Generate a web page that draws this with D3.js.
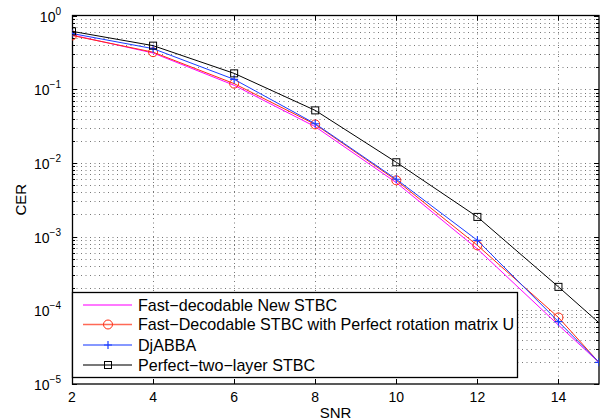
<!DOCTYPE html>
<html><head><meta charset="utf-8">
<script src="https://cdn.jsdelivr.net/npm/d3@7/dist/d3.min.js"></script>
<style>body{margin:0;background:#fff}svg{display:block}text{font-family:"Liberation Sans",Arial,sans-serif;fill:#000}</style>
</head><body><svg id="c" width="603" height="420"></svg>
<script>
const xTicks = [2,4,6,8,10,12,14];
const yDecades = [0,-1,-2,-3,-4,-5];
const legendLabels = ["Fast\u2212decodable New STBC","Fast\u2212Decodable STBC with Perfect rotation matrix U","DjABBA","Perfect\u2212two\u2212layer STBC"];
const magentaX = [2,4,6,8,10,12,14,16];
const magentaY = [0.545,0.31,0.113,0.031,0.0054,0.00068,0.000063,0.0000061];
const redX = [2,4,6,8,10,12,14,16];
const redY = [0.536,0.318,0.119,0.0333,0.0058,0.00076,0.00008,0.0000048];
const blueX = [2,4,6,8,10,12,14,15];
const blueY = [0.57,0.355,0.136,0.034,0.006,0.00089,0.00007,0.0000197];
const blackX = [2,4,6,8,10,12,14,16];
const blackY = [0.61,0.39,0.164,0.0516,0.0102,0.00185,0.000208,0.000022];

const svg = d3.select("#c");
const L=72, R=599, T=15.5, B=384;
const x = d3.scaleLinear().domain([2,15]).range([L,R]);
const y = d3.scaleLog().domain([1e-5,1]).range([B,T]);

// grid
const g = svg.append("g");
const minorVals=[];
for(let d=-5; d<0; d++) for(let m=1;m<10;m++) minorVals.push(m*Math.pow(10,d));
minorVals.push(1);
g.selectAll("line.hg").data(minorVals.filter(v=>v>1e-5&&v<1)).enter().append("line")
 .attr("x1",L).attr("x2",R).attr("y1",d=>Math.round(y(d))+0.5).attr("y2",d=>Math.round(y(d))+0.5)
 .attr("stroke","#555").attr("stroke-width",0.8).attr("stroke-dasharray","1,3.5");
g.selectAll("line.vg").data(xTicks.slice(1)).enter().append("line")
 .attr("y1",T).attr("y2",B).attr("x1",d=>Math.round(x(d))+0.5).attr("x2",d=>Math.round(x(d))+0.5)
 .attr("stroke","#555").attr("stroke-width",0.8).attr("stroke-dasharray","1,3.5");

// ticks
const tk = svg.append("g").attr("stroke","#000").attr("stroke-width",1);
minorVals.forEach(v=>{
  const major = Math.abs(Math.log10(v)-Math.round(Math.log10(v)))<1e-9;
  const len = major?5:3; const yy=Math.round(y(v))+0.5;
  tk.append("line").attr("x1",L).attr("x2",L+len).attr("y1",yy).attr("y2",yy);
  tk.append("line").attr("x1",R-len).attr("x2",R).attr("y1",yy).attr("y2",yy);
});
xTicks.forEach(v=>{
  const xx=Math.round(x(v))+0.5;
  tk.append("line").attr("x1",xx).attr("x2",xx).attr("y1",B).attr("y2",B-5);
  tk.append("line").attr("x1",xx).attr("x2",xx).attr("y1",T).attr("y2",T+5);
});
svg.append("rect").attr("x",L+0.5).attr("y",T).attr("width",R-L-0.5).attr("height",B-T)
 .attr("fill","none").attr("stroke","#000").attr("stroke-width",1.3);

// tick labels
svg.selectAll("text.xt").data(xTicks).enter().append("text")
 .attr("x",d=>x(d)).attr("y",402).attr("text-anchor","middle").attr("font-size",14).text(d=>d);
yDecades.forEach(d=>{
  const t = svg.append("text").attr("x",L-11).attr("y",y(Math.pow(10,d))+6).attr("text-anchor","end").attr("font-size",14);
  t.append("tspan").text("10");
  t.append("tspan").attr("dy",-7).attr("font-size",10).text(d===0?"0":"\u2212"+(-d));
});
svg.append("text").attr("x",(L+R)/2).attr("y",418).attr("text-anchor","middle").attr("font-size",15).text("SNR");
svg.append("text").attr("transform",`translate(26,${(T+B)/2}) rotate(-90)`).attr("text-anchor","middle").attr("font-size",15).text("CER");

// clip
svg.append("clipPath").attr("id","cp").append("rect").attr("x",L).attr("y",T).attr("width",R-L).attr("height",B-T);
const plot = svg.append("g").attr("clip-path","url(#cp)");
const line = d3.line().x(d=>x(d[0])).y(d=>y(d[1]));
const series = [
 {xs:magentaX, ys:magentaY, c:"#ff00ff", m:"none"},
 {xs:redX, ys:redY, c:"#ff2a10", m:"circle"},
 {xs:blueX, ys:blueY, c:"#1a3cff", m:"plus"},
 {xs:blackX, ys:blackY, c:"#000", m:"square"}
];
function marker(sel, m, c){
  if(m==="circle") sel.append("circle").attr("r",4.5).attr("fill","none").attr("stroke",c);
  else if(m==="square") sel.append("rect").attr("x",-3.5).attr("y",-3.5).attr("width",7).attr("height",7).attr("fill","none").attr("stroke",c);
  else if(m==="plus"){ sel.append("path").attr("d","M-4,0H4M0,-4V4").attr("stroke",c).attr("stroke-width",1.2); }
}
series.forEach(s=>{
  const pts = s.xs.map((v,i)=>[v,s.ys[i]]);
  plot.append("path").attr("d",line(pts)).attr("fill","none").attr("stroke",s.c).attr("stroke-width",1);
  if(s.m!=="none") pts.forEach(p=>{ const gm=plot.append("g").attr("transform",`translate(${x(p[0])},${y(p[1])})`); marker(gm,s.m,s.c); });
});

// legend
const lg = svg.append("g");
lg.append("rect").attr("x",72.5).attr("y",292.5).attr("width",445).attr("height",85).attr("fill","#fff").attr("stroke","#000").attr("stroke-width",1.3);
const ly = [305,324.5,345,365];
series.forEach((s,i)=>{
  lg.append("line").attr("x1",83).attr("x2",132).attr("y1",ly[i]).attr("y2",ly[i]).attr("stroke",s.c).attr("stroke-width",1.5).attr("opacity",0.7);
  if(s.m!=="none"){ const gm=lg.append("g").attr("transform",`translate(108,${ly[i]})`); marker(gm,s.m,s.c); }
  lg.append("text").attr("x",138).attr("y",ly[i]+5.5).attr("font-size",16.1).text(legendLabels[i]);
});
</script></body></html>
